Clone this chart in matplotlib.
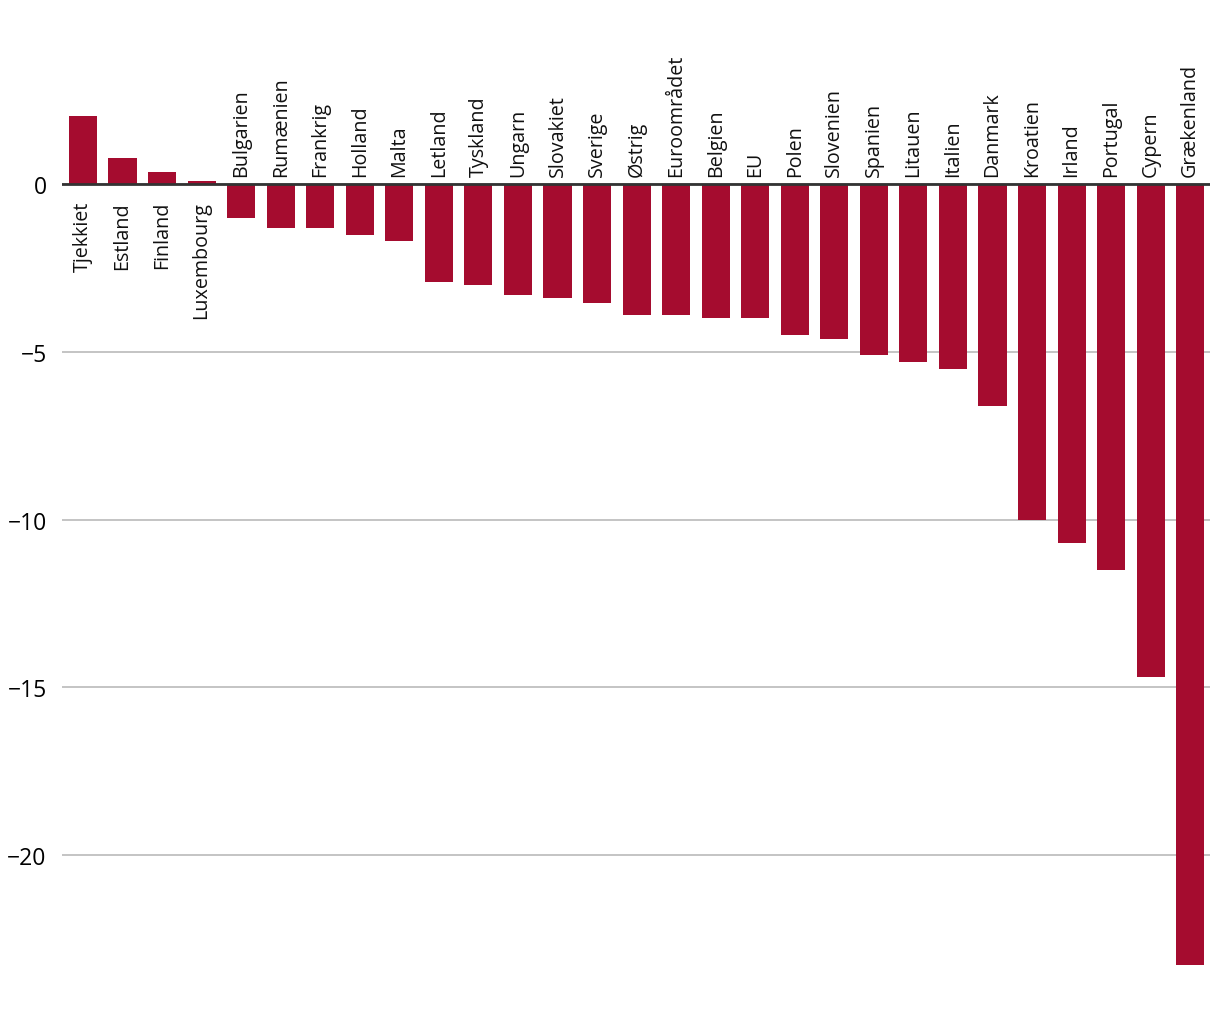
import matplotlib.pyplot as plt

plt.rcParams['font.family'] = ['Open Sans', 'DejaVu Sans']

lande = ["Tjekkiet", "Estland", "Finland", "Luxembourg", "Bulgarien", "Rumænien",
         "Frankrig", "Holland", "Malta", "Letland", "Tyskland", "Ungarn", "Slovakiet",
         "Sverige", "Østrig", "Euroområdet", "Belgien", "EU", "Polen", "Slovenien",
         "Spanien", "Litauen", "Italien", "Danmark", "Kroatien", "Irland", "Portugal",
         "Cypern", "Grækenland"]
vaerdier = [2.05, 0.8, 0.38, 0.1, -1.0, -1.3, -1.3, -1.5, -1.7, -2.9, -3.0, -3.3, -3.4,
            -3.55, -3.9, -3.9, -4.0, -4.0, -4.5, -4.6, -5.1, -5.3, -5.5, -6.6, -10.0,
            -10.7, -11.5, -14.7, -23.3]
yticks = [0, -5, -10, -15, -20]

fig = plt.figure(figsize=(12.2, 10.2), dpi=100)
ax = fig.add_axes([62 / 1220, 0, (1210 - 62) / 1220, 1])

x = range(len(lande))
ax.bar(x, vaerdier, width=0.71, color='#a50c2f', zorder=3)

# etiketter på modsat side af nullinjen
for i, (navn, v) in enumerate(zip(lande, vaerdier)):
    if v >= 0:
        ax.text(i, -0.5, navn, rotation=90, ha='center', va='top', fontsize=14.2, color='#111111')
    else:
        ax.text(i, 0.25, navn, rotation=90, ha='center', va='bottom', fontsize=14.2, color='#111111')

ax.set_xlim(-0.53, 28.5)
ax.set_ylim(-24.9, 5.53)
ax.set_yticks(yticks)
ax.set_yticklabels(['0' if t == 0 else '\u2212' + str(-t) for t in yticks], fontsize=16.5)
ax.set_xticks([])
ax.tick_params(axis='y', length=0, pad=11)
ax.grid(axis='y', color='#c4c4c4', linewidth=1.4, zorder=0)
ax.axhline(0, color='#333333', linewidth=2, zorder=4)
for s in ax.spines.values():
    s.set_visible(False)

fig.savefig('out.png', dpi=100)
